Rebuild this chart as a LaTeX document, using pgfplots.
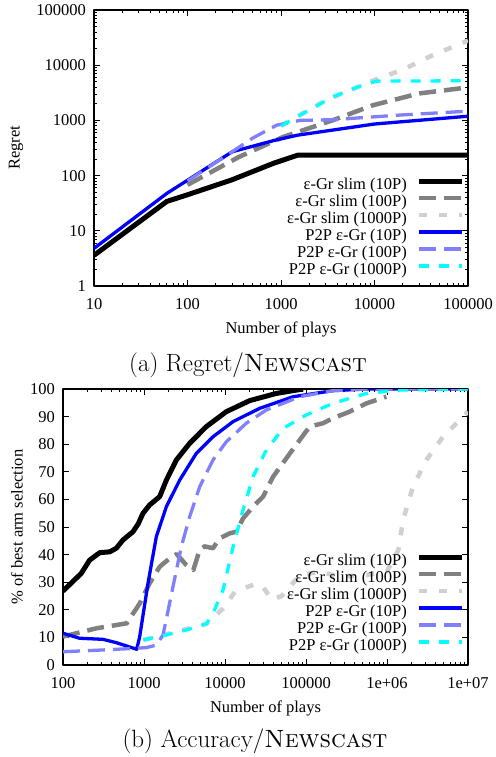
\documentclass[border=0pt]{standalone}
\usepackage{fontspec}
\usepackage{pgfplots}
\pgfplotsset{compat=1.18}
\newfontfamily\timesfont{Liberation Serif}
\newcommand\pf{\fontsize{16.5pt}{19pt}\timesfont}
\newcommand\cf{\fontsize{25pt}{29pt}\selectfont}

\definecolor{cgray}{RGB}{128,128,128}
\definecolor{clgray}{RGB}{208,208,208}
\definecolor{cblue}{RGB}{0,0,255}
\definecolor{clblue}{RGB}{128,128,255}
\definecolor{ccyan}{RGB}{0,255,255}

\pgfplotsset{
  gp/.style={
    scale only axis, height=276pt,
    font=\pf,
    axis line style={line width=1.2pt},
    every tick/.style={black, line width=0.9pt},
    major tick length=6pt, minor tick length=3pt,
    tick align=inside,
    line join=round,
    xticklabel style={yshift=-8.5pt},
    yticklabel style={xshift=-4.5pt},
    xlabel style={yshift=-6pt},
    legend plot pos=right, legend cell align=right,
    legend image code/.code={\draw[##1] (0pt,4.5pt) -- (43pt,4.5pt);},
    legend style={draw=none, fill=none, inner sep=0pt, font=\pf,
      nodes={inner sep=0pt, text height=12pt, text depth=4.5pt},
      row sep=0.5pt, column sep=10pt,
      at={(rel axis cs:1,0)}, anchor=south east},
  },
  s1/.style={black, line width=5pt},
  s2/.style={cgray, line width=4.5pt, dash pattern=on 17pt off 8pt},
  s3/.style={clgray, line width=4.5pt, dash pattern=on 8pt off 12pt},
  s4/.style={cblue, line width=3.3pt},
  s5/.style={clblue, line width=3.3pt, dash pattern=on 17pt off 8pt},
  s6/.style={ccyan, line width=3.3pt, dash pattern=on 10pt off 10pt},
}

\begin{document}
\begin{tikzpicture}[x=1pt,y=1pt]
\path[use as bounding box] (0,0) rectangle (495,-757);

% (a) regret
\begin{axis}[gp,
  at={(94pt,-286pt)}, anchor=south west, width=374pt,
  xmode=log, ymode=log,
  xmin=10, xmax=100000, ymin=1, ymax=100000,
  xtick={10,100,1000,10000,100000},
  xticklabels={10,100,1000,10000,100000},
  ytick={1,10,100,1000,10000,100000},
  yticklabels={1,10,100,1000,10000,100000},
  xlabel={Number of plays}, ylabel={Regret},
  ylabel style={at={(rel axis cs:0,0.5)}, anchor=center, yshift=78pt},
  legend style={xshift=-3pt, yshift=7pt},
]
\addplot[s1] coordinates {(10,3.6) (60,34) (100,45) (300,84) (830,167) (1530,236) (100000,236)};
\addplot[s2] coordinates {(100,68) (350,215) (1050,500) (3600,1010) (9700,1890) (30000,3080) (100000,3960)};
\addplot[s3] coordinates {(1000,800) (3000,2300) (10000,5400) (20000,8300) (42000,15200) (100000,28000)};
\addplot[s4] coordinates {(10,4.8) (60,47.5) (300,270) (830,430) (1500,540) (10000,860) (100000,1190)};
\addplot[s5] coordinates {(100,80) (250,220) (500,480) (900,820) (1600,1000) (3600,1030) (18000,1245) (100000,1470)};
\addplot[s6] coordinates {(1000,790) (1600,1250) (3600,2680) (7000,4170) (10500,5150) (100000,5220)};
\legend{ε-Gr slim (10P), ε-Gr slim (100P), ε-Gr slim (1000P), P2P ε-Gr (10P), P2P ε-Gr (100P), P2P ε-Gr (1000P)}
\end{axis}

% (b) accuracy
\begin{axis}[gp,
  at={(63pt,-665pt)}, anchor=south west, width=405pt,
  xmode=log,
  xmin=100, xmax=10000000, ymin=0, ymax=100,
  xtick={100,1000,10000,100000,1000000,10000000},
  xticklabels={100,1000,10000,100000,1e+06,1e+07},
  ytick={0,10,...,100},
  yticklabels={0,10,20,30,40,50,60,70,80,90,100},
  xlabel={Number of plays}, ylabel={\% of best arm selection},
  ylabel style={at={(rel axis cs:0,0.5)}, anchor=center, yshift=46pt},
  legend style={xshift=-3pt, yshift=10pt},
]
\addplot[s1] coordinates {(100,26.8) (168,33.2) (213,38) (284,40.7) (377,41) (455,42.3) (550,45.3) (731,48.3) (843,51) (973,55) (1175,58) (1560,61) (1890,67) (2510,74.3) (3660,80.3) (5890,86.4) (10400,91.8) (20200,95.8) (43000,98.4) (92000,100)};
\addplot[s2] coordinates {(100,10.3) (258,13.3) (611,15.1) (885,22.3) (1175,29.6) (1560,35.6) (2070,38.6) (2530,40.2) (3330,36.2) (4060,34.4) (4870,41.7) (5600,43) (7110,42.3) (8590,45.9) (11400,47.7) (13800,48.3) (16700,53.1) (22200,57.4) (29500,61) (39200,68.2) (57200,74.9) (83600,81.5) (111000,86.4) (162000,87.6) (215000,89.4) (346000,91.8) (556000,94.8) (982000,97.2)};
\addplot[s3] coordinates {(980,9) (5890,14.9) (9500,20.5) (13300,26.6) (24500,29.5) (30000,28) (37800,23.6) (50000,25) (84400,32.6) (148000,33.8) (260000,32) (562000,32.6) (1000000,34) (1380000,41.7) (1580000,52.5) (2090000,64.6) (3060000,74.3) (4910000,82.7) (10000000,91.8)};
\addplot[s4] coordinates {(100,11.5) (160,9.7) (312,9.3) (455,8.1) (813,5.7) (885,10.3) (1120,29.6) (1420,46.5) (1890,57.4) (2760,67) (4430,76.7) (7110,82.7) (12600,88.2) (26800,93) (69200,97.2) (215000,99.4) (556000,100) (10000000,100)};
\addplot[s5] coordinates {(100,4.8) (284,5.4) (731,6) (1070,6.3) (1420,7.2) (1720,10.9) (2280,28.4) (2890,42.9) (3660,53.7) (4870,64.6) (7110,74.3) (10400,80.9) (18300,87.6) (32400,92.4) (83600,97.2) (215000,99.4) (556000,100) (10000000,100)};
\addplot[s6] coordinates {(980,9.1) (1890,10.9) (3330,12.7) (5890,14.9) (7110,18.7) (9450,27.2) (12600,42.9) (16700,56.2) (22200,68.2) (32400,77.9) (52000,85.7) (101000,90.6) (215000,94.8) (556000,98.4) (1430000,99.6) (10000000,100)};
\legend{ε-Gr slim (10P), ε-Gr slim (100P), ε-Gr slim (1000P), P2P ε-Gr (10P), P2P ε-Gr (100P), P2P ε-Gr (1000P)}
\end{axis}

\node[font=\cf, anchor=base] at (248,-371) {(a) Regret/\textsc{Newscast}};
\node[font=\cf, anchor=base] at (255,-747) {(b) Accuracy/\textsc{Newscast}};
\end{tikzpicture}
\end{document}
